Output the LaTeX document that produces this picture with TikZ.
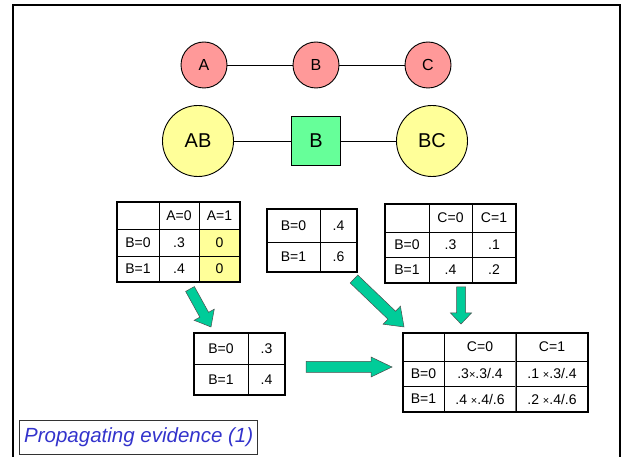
\documentclass[tikz,border=0pt]{standalone}
\usepackage{fontspec}
\setmainfont{Liberation Sans}
\usetikzlibrary{calc}

\definecolor{varred}{RGB}{255,153,153}
\definecolor{cliqueyellow}{RGB}{255,255,153}
\definecolor{sepgreen}{RGB}{102,255,153}
\definecolor{arrowgreen}{RGB}{0,204,153}
\definecolor{captionblue}{RGB}{51,51,204}

% table cell: [fill]{name}{x1}{y1}{x2}{y2}{text}
\newcommand\tcell[7][white]{%
  \node[tcellbox, fill=#1, minimum width={#5-#3}, minimum height={#6-#4}]
    (#2) at ({(#3+#5)/2},{(#4+#6)/2}) {#7};}

% small multiplication sign used in the updated table
\newcommand\tms{{\fontsize{11}{13}\selectfont×}}

% block arrow: {x}{y}{angle}{length}{shaft half width}{head half width}{head length}
\newcommand\blockarrow[7]{%
  \filldraw[blockarrowstyle, shift={(#1,#2)}, rotate=#3]
    (0,-#5) -- ({#4-#7},-#5) -- ({#4-#7},-#6) -- (#4,0)
    -- ({#4-#7},#6) -- ({#4-#7},#5) -- (0,#5) -- cycle;}

\begin{document}
\begin{tikzpicture}[x=1pt,y=-1pt,
  varnode/.style={circle, draw, fill=varred, line width=0.9pt, minimum size=46pt,
    inner sep=0pt, font=\fontsize{16}{19}\selectfont},
  cliquenode/.style={circle, draw, fill=cliqueyellow, line width=0.9pt, minimum size=71pt,
    inner sep=0pt, font=\fontsize{20}{24}\selectfont},
  sepnode/.style={rectangle, draw, fill=sepgreen, line width=0.9pt, minimum size=49pt,
    inner sep=0pt, font=\fontsize{20}{24}\selectfont},
  edge/.style={line width=0.9pt},
  tcellbox/.style={draw, line width=0.8pt, inner sep=0pt, font=\fontsize{14}{16}\selectfont},
  tableframe/.style={line width=2pt},
  blockarrowstyle/.style={fill=arrowgreen, draw=black!70, line width=0.5pt, line join=miter},
]
\useasboundingbox (0,0) rectangle (622,457);

% slide frame
\draw[line width=2pt] (13,470) -- (13,5) -- (620,5) -- (620,470);

% Markov chain A - B - C
\node[varnode] (A) at (204,65) {A};
\node[varnode] (B) at (316,65) {B};
\node[varnode] (C) at (428,65) {C};
\draw[edge] (A) -- (B);
\draw[edge] (B) -- (C);

% clique tree AB - [B] - BC
\node[cliquenode] (AB) at (198,141) {AB};
\node[sepnode] (S) at (316,141) {B};
\node[cliquenode] (BC) at (432,141) {BC};
\draw[edge] (AB) -- (S);
\draw[edge] (S) -- (BC);

% table for clique AB
\tcell{ab00}{117}{202}{159}{229}{}
\tcell{ab01}{159}{202}{199}{229}{A=0}
\tcell{ab02}{199}{202}{240}{229}{A=1}
\tcell{ab10}{117}{229}{159}{256}{B=0}
\tcell{ab11}{159}{229}{199}{256}{.3}
\tcell[cliqueyellow]{ab12}{199}{229}{240}{256}{0}
\tcell{ab20}{117}{256}{159}{282}{B=1}
\tcell{ab21}{159}{256}{199}{282}{.4}
\tcell[cliqueyellow]{ab22}{199}{256}{240}{282}{0}
\draw[tableframe] (ab00.north west) rectangle (ab22.south east);

% separator table
\tcell{s00}{267}{209}{320}{242}{B=0}
\tcell{s01}{320}{209}{357}{242}{.4}
\tcell{s10}{267}{242}{320}{272}{B=1}
\tcell{s11}{320}{242}{357}{272}{.6}
\draw[tableframe] (s00.north west) rectangle (s11.south east);

% table for clique BC
\tcell{bc00}{385}{204}{429}{232}{}
\tcell{bc01}{429}{204}{472}{232}{C=0}
\tcell{bc02}{472}{204}{516}{232}{C=1}
\tcell{bc10}{385}{232}{429}{257}{B=0}
\tcell{bc11}{429}{232}{472}{257}{.3}
\tcell{bc12}{472}{232}{516}{257}{.1}
\tcell{bc20}{385}{257}{429}{283}{B=1}
\tcell{bc21}{429}{257}{472}{283}{.4}
\tcell{bc22}{472}{257}{516}{283}{.2}
\draw[tableframe] (bc00.north west) rectangle (bc22.south east);

% new separator message
\tcell{m00}{194}{333}{248}{364}{B=0}
\tcell{m01}{248}{333}{285}{364}{.3}
\tcell{m10}{194}{364}{248}{395}{B=1}
\tcell{m11}{248}{364}{285}{395}{.4}
\draw[tableframe] (m00.north west) rectangle (m11.south east);

% updated BC table
\tcell{u00}{403}{333}{444}{361}{}
\tcell{u01}{444}{333}{516}{361}{C=0}
\tcell{u02}{516}{333}{588}{361}{C=1}
\tcell{u10}{403}{361}{444}{386}{B=0}
\tcell{u11}{444}{361}{516}{386}{.3\tms.3/.4}
\tcell{u12}{516}{361}{588}{386}{.1 \tms.3/.4}
\tcell{u20}{403}{386}{444}{412}{B=1}
\tcell{u21}{444}{386}{516}{412}{.4 \tms.4/.6}
\tcell{u22}{516}{386}{588}{412}{.2 \tms.4/.6}
\draw[line width=1.2pt, black!55] (u02.north west) -- (u22.south west);
\draw[tableframe] (u00.north west) rectangle (u22.south east);

% block arrows
\blockarrow{190}{289}{-61.1}{43.4}{5}{11.5}{14}
\blockarrow{354}{279}{-43.8}{69.3}{5.5}{12.5}{17}
\blockarrow{461}{287}{-90}{37}{4.5}{10.5}{11}
\blockarrow{306}{367}{0}{86}{5.5}{10}{21}

% caption
\draw[line width=0.8pt, black!80] (19,420) rectangle (257,454);
\node[anchor=west, inner sep=0pt, text=captionblue,
  font=\fontsize{20.5}{24}\selectfont\itshape] (caption) at (24,437) {Propagating evidence (1)};
\end{tikzpicture}
\end{document}
